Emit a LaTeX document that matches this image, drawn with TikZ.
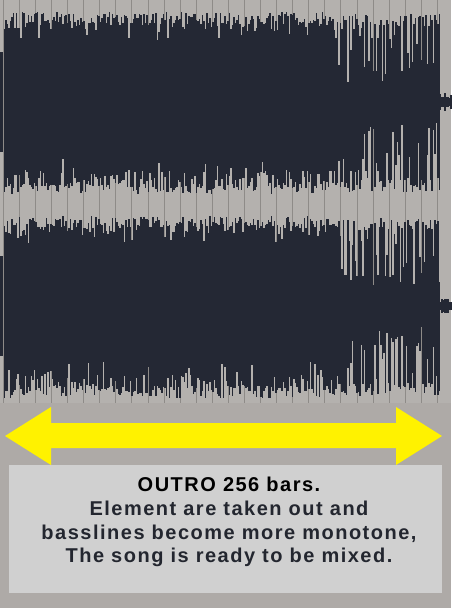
\documentclass[tikz,border=0pt]{standalone}
\usepackage{fontspec}
\setmainfont{Liberation Sans}
\newfontfamily\capfont[LetterSpace=7.5]{Liberation Sans}
\usetikzlibrary{positioning}
\definecolor{wavenavy}{HTML}{242834}
\definecolor{wavebg}{HTML}{B4B1AE}
\definecolor{panelbg}{HTML}{AEAAA7}
\definecolor{gridgray}{HTML}{8E8B88}
\definecolor{boxgray}{HTML}{D0D0D0}
\definecolor{arrowyellow}{HTML}{FFF200}
\definecolor{textnavy}{HTML}{23262F}

\begin{document}
\begin{tikzpicture}[x=1pt,y=-1pt,
   wave/.style={fill=wavenavy},
   gridline/.style={draw=gridgray,line width=1pt},
   infobox/.style={fill=boxgray,minimum width=432.7pt,minimum height=127.7pt,
                   inner sep=0pt},
   caption/.style={font=\capfont\bfseries\fontsize{20}{23.7}\selectfont,align=center,
                   text=textnavy,inner sep=0pt}]
  \useasboundingbox (0,0) rectangle (451,608);
  \fill[panelbg] (0,0) rectangle (451,608);
  \fill[wavebg] (0,0) rectangle (451,403);
  % bar grid
  \foreach \k in {0,...,27}
    \draw[gridline] (3.3+16.08*\k,0) -- (3.3+16.08*\k,403);
  % two channels of the waveform
  \pgfmathsetseed{42}
  \foreach \cy in {102,306} {
    \fill[wave] (0,\cy-50) rectangle (3.3,\cy+50);
    \foreach \x in {4.5,6,...,439.5} {
      \pgfmathsetmacro{\late}{\x>338}
      \pgfmathsetmacro{\p}{rnd}
      \pgfmathsetmacro{\ta}{\late ? (\p<0.18 ? 20+22*rnd : (\p<0.36 ? 42+34*rnd : 76+12*rnd))
                           : (\p<0.07 ? 62+10*rnd : (\p<0.3 ? 72+8*rnd : 78+12*rnd))}
      \pgfmathsetmacro{\q}{rnd}
      \pgfmathsetmacro{\ba}{\late ? (\q<0.2 ? 20+25*rnd : (\q<0.4 ? 45+30*rnd : 76+14*rnd))
                           : (\q<0.1 ? 55+20*rnd : (\q<0.4 ? 68+12*rnd : 80+12*rnd))}
      \fill[wave] (\x-0.8,\cy-\ta) rectangle (\x+0.8,\cy+\ba);
    }
    \foreach \x in {440.5,442,...,451} {
      \pgfmathsetmacro{\ra}{3+6*rnd}
      \fill[wave] (\x-0.8,\cy-\ra) rectangle (\x+0.8,\cy+\ra);
    }
  }
  % double arrow over the section
  \fill[arrowyellow] (5,436) -- (51,407) -- (51,423) -- (396,423) -- (396,407)
    -- (442,436) -- (396,465) -- (396,448) -- (51,448) -- (51,465) -- cycle;
  % description
  \node[infobox] (box) at (225.3,528.8) {};
  \node[caption,anchor=north] (caption) at (229,477)
    {\textcolor{black}{OUTRO 256 bars.}\\Element are taken out and\\
     basslines become more monotone,\\The song is ready to be mixed.};
\end{tikzpicture}
\end{document}
